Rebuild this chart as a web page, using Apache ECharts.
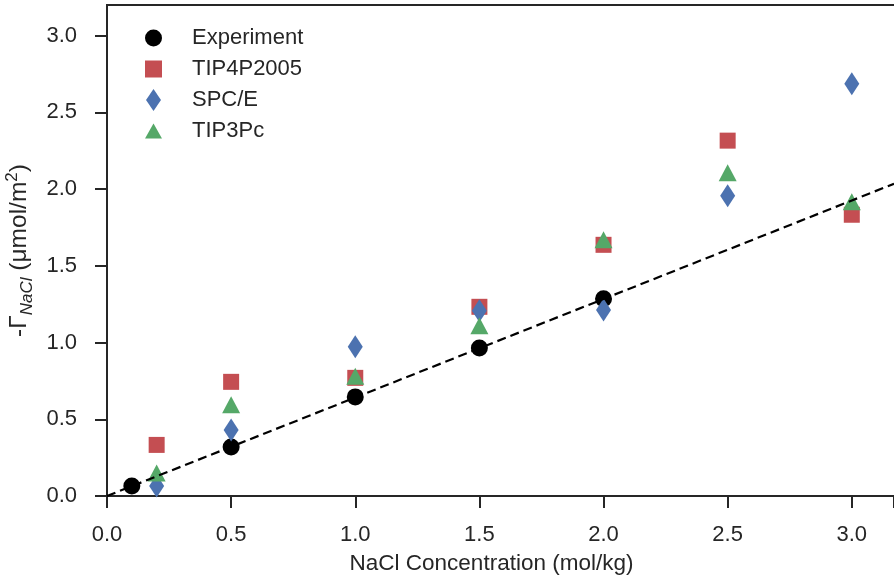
<!DOCTYPE html>
<html>
<head>
<meta charset="utf-8">
<script src="https://cdn.jsdelivr.net/npm/echarts@6/dist/echarts.min.js"></script>
<style>
  html, body { margin: 0; padding: 0; background: #fff; }
  #chart { width: 894px; height: 578px; }
</style>
</head>
<body>
<div id="chart"></div>
<script>
// values
const expX = [0.1, 0.5, 1.0, 1.5, 2.0];
const expY = [0.065, 0.32, 0.646, 0.965, 1.285];

const simX = [0.2, 0.5, 1.0, 1.5, 2.0, 2.5, 3.0];
const tip4pY = [0.333, 0.744, 0.77, 1.233, 1.637, 2.316, 1.833];
const spceY = [0.065, 0.43, 0.972, 1.207, 1.213, 1.957, 2.687];
const tip3pcY = [0.15, 0.594, 0.78, 1.109, 1.67, 2.107, 1.918];

// linear fit drawn as dashed line
const fitX = [0, 3.17];
const fitY = [0, 2.035];

const xTicks = [0.0, 0.5, 1.0, 1.5, 2.0, 2.5, 3.0];
const yTicks = [0.0, 0.5, 1.0, 1.5, 2.0, 2.5, 3.0];

const pairs = (xs, ys) => xs.map((x, i) => [x, ys[i]]);

const ink = '#262626';
const font = 'Liberation Sans, Arial, sans-serif';

let chart = echarts.init(document.getElementById('chart'));

let option = {
    animation: false,
    textStyle: { fontFamily: font },
    grid: { left: 107, right: 0, top: 5, bottom: 82, outerBoundsMode: 'none' },
    // white patch over the tick that echarts adds at the y max (3.2)
    graphic: [{
        type: 'rect',
        left: 90,
        top: 2,
        shape: { width: 16, height: 6 },
        style: { fill: '#fff' },
        z: 100
    }],
    legend: {
        orient: 'vertical',
        left: 140,
        top: 22,
        itemWidth: 17,
        itemHeight: 22,
        itemGap: 9,
        symbolKeepAspect: true,
        textStyle: { fontSize: 22, color: ink, padding: [0, 0, 0, 25] },
        data: [
            { name: 'Experiment', icon: 'circle' },
            { name: 'TIP4P2005', icon: 'path://M0,0H16V16H0Z' },
            { name: 'SPC/E', icon: 'path://M7.5,0L15,11L7.5,22L0,11Z' },
            { name: 'TIP3Pc', icon: 'path://M9,0L18,16L0,16Z' }
        ]
    },
    xAxis: [{
        type: 'value',
        min: 0,
        max: 3.17,
        interval: 0.5,
        name: 'NaCl Concentration (mol/kg)',
        nameLocation: 'middle',
        nameGap: 56,
        nameTextStyle: { fontSize: 22.5, color: ink, padding: [0, 18, 0, 0] },
        axisLine: { lineStyle: { color: ink, width: 2 } },
        axisTick: { show: true, length: 12, lineStyle: { color: ink, width: 2 } },
        axisLabel: {
            fontSize: 22, color: ink, margin: 28,
            customValues: xTicks,
            formatter: v => v.toFixed(1)
        },
        splitLine: { show: false }
    }, {
        type: 'value',
        position: 'top',
        min: 0,
        max: 3.17,
        axisLine: { show: true, lineStyle: { color: ink, width: 2 } },
        axisTick: { show: false },
        axisLabel: { show: false },
        splitLine: { show: false }
    }],
    yAxis: {
        type: 'value',
        min: 0,
        max: 3.2,
        interval: 0.5,
        name: '-Γ{sub|NaCl} (μmol/m{sup|2})',
        nameLocation: 'middle',
        nameGap: 56,
        nameTextStyle: {
            fontSize: 24.5, color: ink, lineHeight: 32,
            rich: {
                sub: { fontSize: 17, fontStyle: 'italic', color: ink, verticalAlign: 'bottom', lineHeight: 32 },
                sup: { fontSize: 17, color: ink, verticalAlign: 'top', lineHeight: 32 }
            }
        },
        axisLine: { show: true, lineStyle: { color: ink, width: 2 } },
        axisTick: { show: true, length: 12, lineStyle: { color: ink, width: 2 } },
        axisLabel: {
            fontSize: 22, color: ink, margin: 30,
            customValues: yTicks,
            formatter: v => v.toFixed(1)
        },
        splitLine: { show: false }
    },
    series: [{
        name: 'Experiment',
        type: 'scatter',
        symbol: 'circle',
        symbolSize: 17,
        itemStyle: { color: '#000', opacity: 1 },
        data: pairs(expX, expY),
        z: 2
    }, {
        name: 'TIP4P2005',
        type: 'scatter',
        symbol: 'rect',
        symbolSize: 16,
        itemStyle: { color: '#C44E52', opacity: 1 },
        data: pairs(simX, tip4pY),
        z: 3
    }, {
        name: 'SPC/E',
        type: 'scatter',
        symbol: 'diamond',
        symbolSize: [15, 23],
        itemStyle: { color: '#4C72B0', opacity: 1 },
        data: pairs(simX, spceY),
        z: 4
    }, {
        name: 'TIP3Pc',
        type: 'scatter',
        symbol: 'triangle',
        symbolSize: [18, 17],
        itemStyle: { color: '#55A868', opacity: 1 },
        data: pairs(simX, tip3pcY),
        z: 5
    }, {
        name: 'fit',
        type: 'line',
        data: pairs(fitX, fitY),
        symbol: 'none',
        lineStyle: { color: '#000', width: 2.2, type: [9, 5] },
        z: 6
    }]
};

chart.setOption(option);
</script>
</body>
</html>
